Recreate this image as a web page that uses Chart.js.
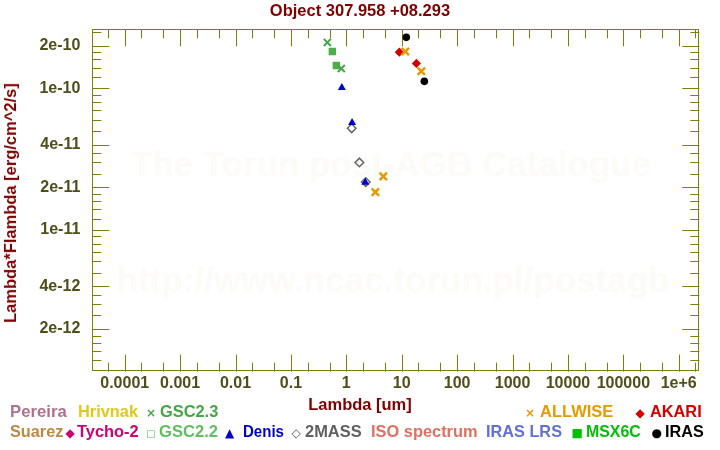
<!DOCTYPE html>
<html>
<head>
<meta charset="utf-8">
<script src="https://cdn.jsdelivr.net/npm/chart.js@4.4.0/dist/chart.umd.min.js"></script>
<style>
body { margin: 0; background: #fff; }
#wrap { position: relative; width: 720px; height: 450px; font-family: "Liberation Sans", Arial, sans-serif; font-weight: bold; }
#wrap canvas { position: absolute; left: 0; top: 0; }
.t { position: absolute; white-space: nowrap; font-size: 16.5px; line-height: 20px; transform-origin: 0 0; }
.wm { position: absolute; white-space: nowrap; font-size: 35px; line-height: 35px; color: #fcfbf8; transform: translateX(-50%); }
.s { font-family: "DejaVu Sans", sans-serif; font-size: 12px; }
</style>
</head>
<body>
<div id="wrap">
  <div class="wm" style="left:391px; top:146px;">The Torun post-AGB Catalogue</div>
  <div class="wm" style="left:393px; top:262px;">http://www.ncac.torun.pl/postagb</div>
  <canvas id="sedChart" width="720" height="450"></canvas>

  <div class="t" style="left:0; width:720px; top:0; text-align:center; color:#800000;">Object 307.958 +08.293</div>
  <div class="t" style="left:9.5px; top:203px; color:#800000; transform-origin:50% 50%; transform:translate(-50%,-50%) rotate(-90deg);">Lambda*Flambda [erg/cm^2/s]</div>
  <div class="t" style="left:0; width:720px; top:394px; text-align:center; color:#800000;">Lambda [um]</div>

  <!-- legend, row 1 -->
  <div class="t fit" data-w="56.7" style="left:10px; top:401px; color:#b0708e;">Pereira</div>
  <div class="t fit" data-w="60" style="left:77.7px; top:401px; color:#e2c81c;">Hrivnak</div>
  <div class="t" style="left:146px; top:401px; color:#44a644;"><span class="s">×</span></div>
  <div class="t fit" data-w="58.3" style="left:160px; top:401px; color:#44a644;">GSC2.3</div>
  <div class="t" style="left:525px; top:401px; color:#e69a00;"><span class="s">×</span></div>
  <div class="t fit" data-w="73.3" style="left:540px; top:401px; color:#e69a00;">ALLWISE</div>
  <div class="t" style="left:635.5px; top:401px; color:#d40000;"><span class="s">◆</span></div>
  <div class="t fit" data-w="51.7" style="left:650px; top:401px; color:#d40000;">AKARI</div>
  <!-- legend, row 2 -->
  <div class="t fit" data-w="53.3" style="left:10px; top:421px; color:#c08840;">Suarez</div>
  <div class="t" style="left:65.5px; top:421px; color:#d0006f;"><span class="s">◆</span></div>
  <div class="t fit" data-w="61.6" style="left:76.7px; top:421px; color:#d0006f;">Tycho-2</div>
  <div class="t" style="left:146px; top:421px; color:#60c060;"><span class="s" style="font-size:10px;">□</span></div>
  <div class="t fit" data-w="59" style="left:159.3px; top:421px; color:#60c060;">GSC2.2</div>
  <div class="t" style="left:225px; top:421px; color:#0000cc;"><span class="s">▲</span></div>
  <div class="t fit" data-w="41" style="left:243.3px; top:421px; color:#0000cc;">Denis</div>
  <div class="t" style="left:291.5px; top:421px; color:#606060;"><span class="s">◇</span></div>
  <div class="t fit" data-w="56.7" style="left:305px; top:421px; color:#606060;">2MASS</div>
  <div class="t fit" data-w="106.6" style="left:370.7px; top:421px; color:#e07060;">ISO spectrum</div>
  <div class="t fit" data-w="76" style="left:485.7px; top:421px; color:#6070d8;">IRAS LRS</div>
  <div class="t" style="left:571.5px; top:421px; color:#00c000;"><span class="s">■</span></div>
  <div class="t fit" data-w="54.7" style="left:586px; top:421px; color:#00c000;">MSX6C</div>
  <div class="t" style="left:651.5px; top:421px; color:#000;"><span class="s">●</span></div>
  <div class="t fit" data-w="38.7" style="left:665.3px; top:421px; color:#000;">IRAS</div>
</div>

<script>
// photometry, wavelength in um, lambda*F_lambda in erg/cm^2/s
var gsc23Wave = [0.454, 0.81];
var gsc23Flux = [2.11e-10, 1.38e-10];
var gsc22Wave = [0.559, 0.66];
var gsc22Flux = [1.82e-10, 1.45e-10];
var denisWave = [0.83, 1.27, 2.2];
var denisFlux = [1.01e-10, 5.72e-11, 2.17e-11];
var twomassWave = [1.25, 1.72, 2.24];
var twomassFlux = [5.22e-11, 3.0e-11, 2.18e-11];
var allwiseWave = [3.34, 4.65, 11.6, 22.6];
var allwiseFlux = [1.85e-11, 2.39e-11, 1.82e-10, 1.32e-10];
var akariWave = [9.05, 18.4];
var akariFlux = [1.80e-10, 1.50e-10];
var irasWave = [12.1, 25.6];
var irasFlux = [2.29e-10, 1.12e-10];

// axes
var xMin = 2.6e-5, xMax = 2.35e6;
var yMin = 1.0e-12, yMax = 2.61e-10;
var xTickValues = [1e-4, 1e-3, 1e-2, 0.1, 1, 10, 100, 1000, 1e4, 1e5, 1e6];
var xTickLabels = ["0.0001", "0.001", "0.01", "0.1", "1", "10", "100", "1000", "10000", "100000", "1e+6"];
var xMinorSteps = [1, 2, 5];
var yTickValues = [2e-12, 4e-12, 1e-11, 2e-11, 4e-11, 1e-10, 2e-10];
var yTickLabels = ["2e-12", "4e-12", "1e-11", "2e-11", "4e-11", "1e-10", "2e-10"];
var yMinorSteps = [1, 1.2, 1.4, 1.6, 1.8, 2, 2.5, 3, 3.5, 4, 5, 6, 7, 8, 9];

var axisColor = "#808000";
var labelColor = "#4f4f1c";

// squeeze legend words to the widths seen in the original
document.querySelectorAll(".fit").forEach(function(el) {
    var w = el.getBoundingClientRect().width;
    el.style.transform = "scaleX(" + (parseFloat(el.dataset.w) / w) + ")";
});

function pts(xs, ys) {
    return xs.map(function(v, i) { return { x: v, y: ys[i] }; });
}

function findLabel(values, labels, v) {
    for (var i = 0; i < values.length; i++) {
        if (Math.abs(v / values[i] - 1) < 1e-6) return labels[i];
    }
    return "";
}

function logTicks(steps, lo, hi, values) {
    var out = [];
    for (var e = Math.floor(Math.log10(lo)); e <= Math.ceil(Math.log10(hi)); e++) {
        steps.forEach(function(m) {
            var v = parseFloat((m * Math.pow(10, e)).toPrecision(6));
            if (v > lo && v <= hi) out.push({ value: v, big: findLabel(values, values, v) !== "" });
        });
    }
    return out;
}

// frame with inward ticks on all four sides
var frameTicks = {
    id: "frameTicks",
    beforeDatasetsDraw: function(chart) {
        var ctx = chart.ctx, a = chart.chartArea;
        var x = chart.scales.x, y = chart.scales.y;
        ctx.save();
        ctx.strokeStyle = axisColor;
        ctx.lineWidth = 1;
        ctx.strokeRect(Math.round(a.left) + 0.5, Math.round(a.top) + 0.5,
            Math.round(a.right - a.left) - 1, Math.round(a.bottom - a.top) - 1);
        ctx.beginPath();
        x.ticks.forEach(function(t) {
            var px = Math.round(x.getPixelForValue(t.value)) + 0.5;
            var len = t.big ? 17 : 9;
            ctx.moveTo(px, a.bottom); ctx.lineTo(px, a.bottom - len);
            ctx.moveTo(px, a.top); ctx.lineTo(px, a.top + len);
        });
        y.ticks.forEach(function(t) {
            var py = Math.round(y.getPixelForValue(t.value)) + 0.5;
            var len = t.big ? 17 : 9;
            ctx.moveTo(a.left, py); ctx.lineTo(a.left + len, py);
            ctx.moveTo(a.right, py); ctx.lineTo(a.right - len, py);
        });
        ctx.stroke();
        ctx.restore();
    }
};

var tickFont = { family: "'Liberation Sans', Arial, sans-serif", size: 16, weight: "bold" };

new Chart(document.getElementById("sedChart").getContext("2d"), {
    type: "scatter",
    data: {
        datasets: [{
            label: "GSC2.3",
            data: pts(gsc23Wave, gsc23Flux),
            pointStyle: "crossRot",
            pointRadius: 5,
            pointBorderWidth: 2,
            pointBorderColor: "#44a644"
        }, {
            label: "GSC2.2",
            data: pts(gsc22Wave, gsc22Flux),
            pointStyle: "rect",
            pointRadius: 5.2,
            pointBorderWidth: 0,
            pointBackgroundColor: "#4cae4c"
        }, {
            label: "Denis",
            data: pts(denisWave, denisFlux),
            pointStyle: "triangle",
            pointRadius: 4.6,
            pointBorderWidth: 0,
            pointBackgroundColor: "#0000cc"
        }, {
            label: "2MASS",
            data: pts(twomassWave, twomassFlux),
            pointStyle: "rectRot",
            pointRadius: 4.3,
            pointBorderWidth: 1.5,
            pointBorderColor: "#666666",
            pointBackgroundColor: "rgba(0,0,0,0)"
        }, {
            label: "ALLWISE",
            data: pts(allwiseWave, allwiseFlux),
            pointStyle: "crossRot",
            pointRadius: 5.2,
            pointBorderWidth: 2.5,
            pointBorderColor: "#e69a00"
        }, {
            label: "AKARI",
            data: pts(akariWave, akariFlux),
            pointStyle: "rectRot",
            pointRadius: 4.6,
            pointBorderWidth: 0,
            pointBackgroundColor: "#d40000"
        }, {
            label: "IRAS",
            data: pts(irasWave, irasFlux),
            pointStyle: "circle",
            pointRadius: 3.8,
            pointBorderWidth: 0,
            pointBackgroundColor: "#000000"
        }]
    },
    options: {
        responsive: false,
        animation: false,
        devicePixelRatio: 1,
        layout: {
            padding: { top: 29.3, right: 20.7, left: 0, bottom: 0 }
        },
        plugins: {
            legend: { display: false },
            tooltip: { enabled: false }
        },
        scales: {
            x: {
                type: "logarithmic",
                position: "bottom",
                min: xMin,
                max: xMax,
                grid: { display: false },
                border: { display: false },
                afterBuildTicks: function(scale) {
                    scale.ticks = logTicks(xMinorSteps, xMin, xMax, xTickValues);
                },
                afterFit: function(scale) { scale.height = 78.3; },
                ticks: {
                    autoSkip: false,
                    maxRotation: 0,
                    padding: -6,
                    color: labelColor,
                    font: tickFont,
                    callback: function(value) {
                        return findLabel(xTickValues, xTickLabels, value);
                    }
                }
            },
            y: {
                type: "logarithmic",
                position: "left",
                min: yMin,
                max: yMax,
                grid: { display: false },
                border: { display: false },
                afterBuildTicks: function(scale) {
                    scale.ticks = logTicks(yMinorSteps, yMin, yMax, yTickValues);
                },
                afterFit: function(scale) { scale.width = 92.3; },
                ticks: {
                    autoSkip: false,
                    padding: 4,
                    color: labelColor,
                    font: tickFont,
                    callback: function(value) {
                        return findLabel(yTickValues, yTickLabels, value);
                    }
                }
            }
        }
    },
    plugins: [frameTicks]
});
</script>
</body>
</html>
